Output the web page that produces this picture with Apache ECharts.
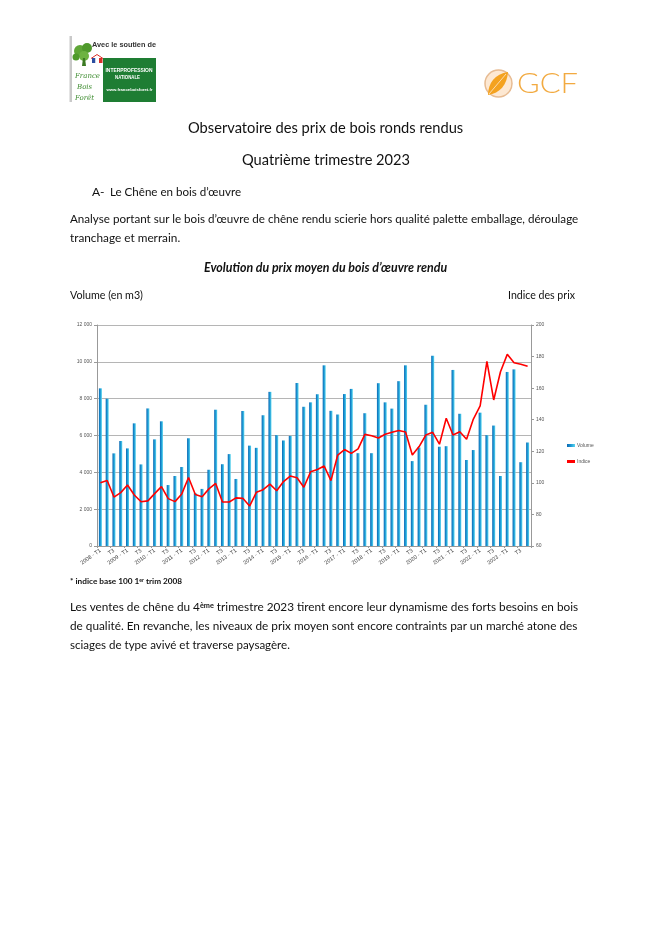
<!DOCTYPE html>
<html><head><meta charset="utf-8">
<script src="https://cdn.jsdelivr.net/npm/echarts@6/dist/echarts.min.js"></script>
<style>
html,body{margin:0;padding:0;background:#fff;}
#page{position:relative;width:656px;height:936px;overflow:hidden;font-family:Lato,'Open Sans',sans-serif;color:#111;background:#fff;}
#chart{position:absolute;left:0;top:0;width:656px;height:936px;}
#logos{position:absolute;left:0;top:0;}
.t{position:absolute;white-space:nowrap;line-height:1;transform:translateY(-50%);}
sup{font-size:0.62em;vertical-align:0.45em;line-height:0;}
</style></head>
<body><div id="page">
<div id="chart"></div>
<svg id="logos" width="656" height="110" viewBox="0 0 656 110">
  <rect x="69.5" y="36" width="2.5" height="66" fill="#c9c9c9"/>
  <text x="92" y="47" font-family="Liberation Sans" font-weight="bold" font-size="7" fill="#333" textLength="64" lengthAdjust="spacingAndGlyphs">Avec le soutien de</text>
  <circle cx="80" cy="51" r="6" fill="#5fa637"/>
  <circle cx="87" cy="48" r="5" fill="#4f9a2c"/>
  <circle cx="84" cy="56" r="5" fill="#6db341"/>
  <circle cx="76" cy="57" r="3.5" fill="#4f9a2c"/>
  <path d="M83,58 L85,58 L86,66 L82,66 Z" fill="#3b7a22"/>
  <rect x="92" y="58" width="3.5" height="5" fill="#2b4ea0"/>
  <rect x="95.5" y="58" width="3.5" height="5" fill="#ffffff"/>
  <rect x="99" y="58" width="3.5" height="5" fill="#d9302a"/>
  <path d="M91,58.5 L97,54.5 L103,58.5" fill="none" stroke="#d9302a" stroke-width="1"/>
  <text x="75" y="78" font-family="DejaVu Serif" font-style="italic" font-size="7" fill="#3d8c2f">France</text>
  <text x="77" y="89" font-family="DejaVu Serif" font-style="italic" font-size="7" fill="#3d8c2f">Bois</text>
  <text x="75" y="100" font-family="DejaVu Serif" font-style="italic" font-size="7" fill="#3d8c2f">Forêt</text>
  <rect x="103" y="58" width="53" height="44" fill="#1e7d33"/>
  <text x="105.5" y="72" font-family="Liberation Sans" font-weight="bold" font-size="5.6" fill="#fff" textLength="47" lengthAdjust="spacingAndGlyphs">INTERPROFESSION</text>
  <text x="115" y="79" font-family="Liberation Sans" font-weight="bold" font-size="5.6" fill="#fff" textLength="25" lengthAdjust="spacingAndGlyphs">NATIONALE</text>
  <text x="106.5" y="91" font-family="Liberation Sans" font-weight="bold" font-size="3.8" fill="#fff" textLength="46" lengthAdjust="spacingAndGlyphs">www.franceboisforet.fr</text>
  <circle cx="498.5" cy="83.5" r="13.5" fill="#fde8d2" stroke="#e7bb92" stroke-width="1.5"/>
  <path d="M488,95 C488,83 495,74 508,72 C507,85 500,93 488,95 Z" fill="#f4a21f"/>
  <path d="M489,94 L506,74" stroke="#fde8d2" stroke-width="0.8"/>
  <text x="517" y="93" font-family="Lato" font-weight="300" font-size="28" fill="#f2aa40" textLength="61" lengthAdjust="spacingAndGlyphs">GCF</text>
</svg>

<div class="t" data-w="275" style="left:188px;top:128px;font-size:15px;">Observatoire des prix de bois ronds rendus</div>
<div class="t" data-w="168" style="left:242px;top:160px;font-size:15px;">Quatrième trimestre 2023</div>
<div class="t" style="left:92px;top:192px;font-size:12px;">A-</div>
<div class="t" data-w="131" style="left:110px;top:192px;font-size:12px;">Le Chêne en bois d’œuvre</div>
<div class="t" data-w="508" style="left:70px;top:219px;font-size:12px;">Analyse portant sur le bois d’œuvre de chêne rendu scierie hors qualité palette emballage, déroulage</div>
<div class="t" data-w="110" style="left:70px;top:238px;font-size:12px;">tranchage et merrain.</div>
<div class="t" data-w="243" style="left:204px;top:268px;font-size:11px;font-weight:bold;font-style:italic;">Evolution du prix moyen du bois d’œuvre rendu</div>
<div class="t" data-w="73" style="left:70px;top:295px;font-size:10px;">Volume (en m3)</div>
<div class="t" data-w="67" style="left:508px;top:295px;font-size:10px;">Indice des prix</div>
<div class="t" data-w="112" style="left:70px;top:581px;font-size:8px;font-weight:bold;">* indice base 100 1<sup>er</sup> trim 2008</div>
<div class="t" data-w="508" style="left:70px;top:607px;font-size:12px;">Les ventes de chêne du 4<sup style="font-weight:bold">ème</sup> trimestre 2023 tirent encore leur dynamisme des forts besoins en bois</div>
<div class="t" data-w="507" style="left:70px;top:626px;font-size:12px;">de qualité. En revanche, les niveaux de prix moyen sont encore contraints par un marché atone des</div>
<div class="t" data-w="220" style="left:70px;top:645px;font-size:12px;">sciages de type avivé et traverse paysagère.</div>
</div>
<script>
// ---- data ----
const years = [2008,2009,2010,2011,2012,2013,2014,2015,2016,2017,2018,2019,2020,2021,2022,2023];
const quarters = ['T1','T2','T3','T4'];
const volume = [
  8560, 8000, 5030, 5700,   // 2008
  5300, 6660, 4430, 7470,   // 2009
  5790, 6770, 3310, 3800,   // 2010
  4290, 5850, 2870, 3100,   // 2011
  4140, 7400, 4440, 4990,   // 2012
  3640, 7330, 5450, 5330,   // 2013
  7100, 8370, 6020, 5730,   // 2014
  5980, 8850, 7560, 7800,   // 2015
  8240, 9810, 7340, 7140,   // 2016
  8250, 8530, 5040, 7210,   // 2017
  5040, 8840, 7800, 7460,   // 2018
  8950, 9810, 4610, 5350,   // 2019
  7670, 10330, 5390, 5420,  // 2020
  9560, 7180, 4670, 5210,   // 2021
  7240, 6020, 6540, 3800,   // 2022
  9450, 9590, 4550, 5620    // 2023
];
const indice = [
  100, 101.5, 91, 93.8,
  98.6, 92.3, 88, 88.6,
  93.2, 97.6, 90, 88.1,
  93, 103.4, 92.6, 91.2,
  96.2, 99.6, 87.9, 87.9,
  90.5, 90.2, 85.3, 94,
  95.7, 99.2, 95, 100.8,
  104.3, 103.2, 97.2, 107,
  108.5, 110.7, 101.4, 117.6,
  121.1, 118.7, 121.5, 130.7,
  129.8, 128.4, 130.8, 132,
  133.2, 132.2, 117.6, 123,
  130.3, 132, 124.5, 140.9,
  130.3, 132.4, 127.6, 140.4,
  148.7, 177, 152.5, 170.4,
  181.4, 176.1, 175.1, 173.8
];
const seriesNames = ['Volume', 'Indice'];
const volumeAxis = {min: 0, max: 12000, interval: 2000};
const indiceAxis = {min: 60, max: 200, interval: 20};

const categories = [];
years.forEach(y => quarters.forEach(q => categories.push(q === 'T1' ? y + ' - T1' : q)));

// ---- fit text widths ----
document.querySelectorAll('[data-w]').forEach(el => {
  const target = +el.dataset.w;
  let fs = parseFloat(el.style.fontSize);
  for (let k = 0; k < 4; k++) {
    const w = el.getBoundingClientRect().width;
    fs = fs * target / w;
    el.style.fontSize = fs + 'px';
  }
});

const fmt = v => String(v).replace(/\B(?=(\d{3})+(?!\d))/g, ' ');
const chart = echarts.init(document.getElementById('chart'), null, {renderer: 'canvas'});
const barGrad = new echarts.graphic.LinearGradient(0, 0, 1, 0, [
  {offset: 0, color: '#0c68b2'}, {offset: 0.5, color: '#1e9bd6'}, {offset: 1, color: '#5cd6ee'}
]);
chart.setOption({
  animation: false,
  textStyle: {fontFamily: 'Liberation Sans'},
  grid: {left: 97, top: 325, width: 434, height: 221},
  legend: {
    orient: 'vertical', left: 562, top: 438, itemWidth: 8, itemHeight: 3, itemGap: 11,
    textStyle: {fontSize: 5, color: '#555', padding: [0, 0, 0, -3]},
    data: [{name: seriesNames[0], icon: 'rect'}, {name: seriesNames[1], icon: 'rect'}]
  },
  xAxis: {
    type: 'category', data: categories,
    axisLine: {lineStyle: {color: '#999'}},
    axisTick: {show: true, length: 2, lineStyle: {color: '#999'}},
    axisLabel: {interval: 1, rotate: 35, fontSize: 5.5, color: '#444', margin: 4}
  },
  yAxis: [{
    type: 'value', min: volumeAxis.min, max: volumeAxis.max, interval: volumeAxis.interval,
    axisLine: {show: true, lineStyle: {color: '#999'}},
    axisTick: {show: true, length: 3, lineStyle: {color: '#999'}},
    splitLine: {show: true, lineStyle: {color: '#b5b5b5', width: 1}},
    axisLabel: {fontSize: 5, color: '#555', margin: 5, formatter: fmt}
  }, {
    type: 'value', position: 'right', min: indiceAxis.min, max: indiceAxis.max, interval: indiceAxis.interval,
    axisLine: {show: true, lineStyle: {color: '#999'}},
    axisTick: {show: true, length: 3, lineStyle: {color: '#999'}},
    splitLine: {show: false},
    axisLabel: {fontSize: 5, color: '#555', margin: 5}
  }],
  series: [{
    name: seriesNames[0], type: 'bar', data: volume, barWidth: 3,
    itemStyle: {color: barGrad}
  }, {
    name: seriesNames[1], type: 'line', yAxisIndex: 1, data: indice,
    symbol: 'none', itemStyle: {color: '#ff0000'}, lineStyle: {color: '#ff0000', width: 1.6}
  }]
});
</script>
</body></html>
